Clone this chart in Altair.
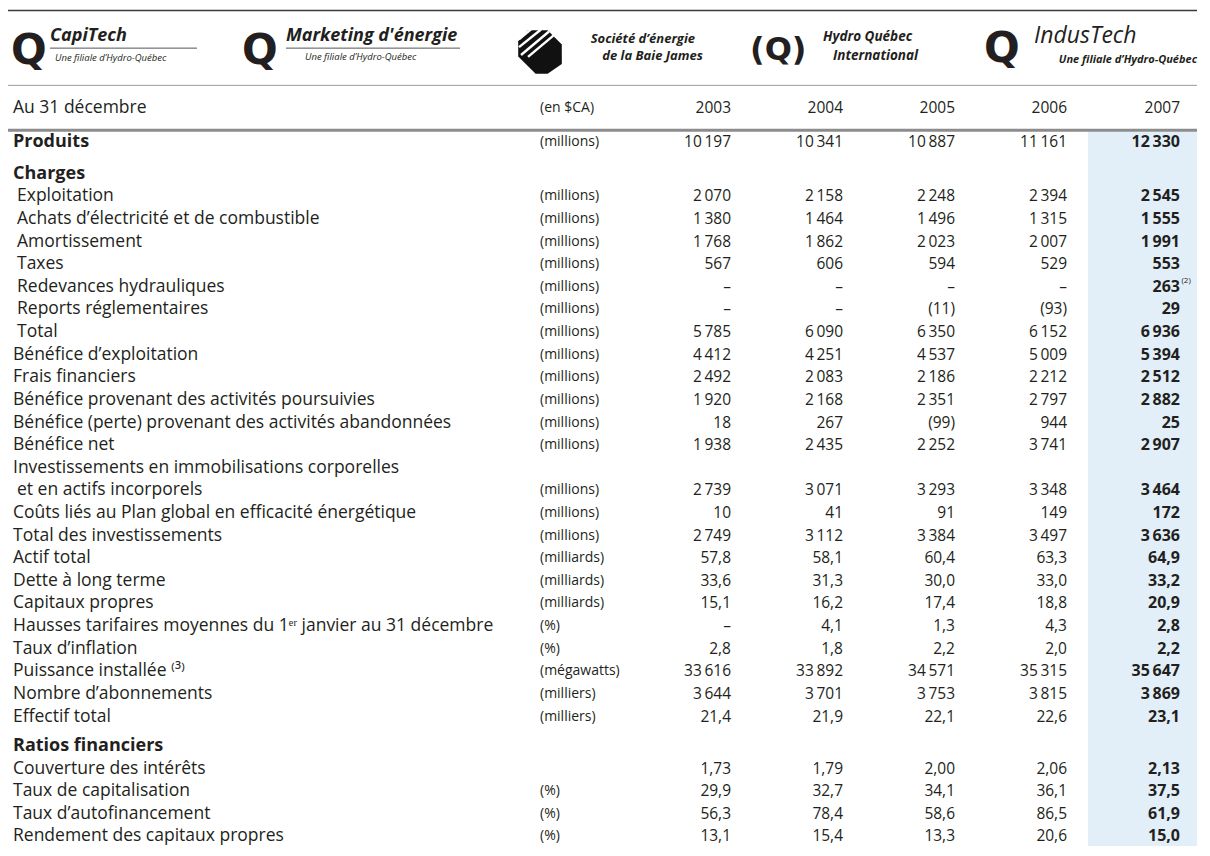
import altair as alt
import pandas as pd

# ---------------- data ----------------
years = ["2003", "2004", "2005", "2006", "2007"]

labels = [
    "Produits", "Charges", "Exploitation", "Achats d’électricité et de combustible",
    "Amortissement", "Taxes", "Redevances hydrauliques", "Reports réglementaires", "Total",
    "Bénéfice d’exploitation", "Frais financiers",
    "Bénéfice provenant des activités poursuivies",
    "Bénéfice (perte) provenant des activités abandonnées", "Bénéfice net",
    "Investissements en immobilisations corporelles", "et en actifs incorporels",
    "Coûts liés au Plan global en efficacité énergétique", "Total des investissements",
    "Actif total", "Dette à long terme", "Capitaux propres",
    "Hausses tarifaires moyennes du 1ᵉʳ janvier au 31 décembre", "Taux d’inflation",
    "Puissance installée ⁽³⁾", "Nombre d’abonnements", "Effectif total",
    "Ratios financiers", "Couverture des intérêts", "Taux de capitalisation",
    "Taux d’autofinancement", "Rendement des capitaux propres",
]

M, G, P = "(millions)", "(milliards)", "(%)"
units = [M, "", M, M, M, M, M, M, M, M, M, M, M, M, "", M, M, M, G, G, G, P, P,
         "(mégawatts)", "(milliers)", "(milliers)", "", "", P, P, P]

indented = [False, False, True, True, True, True, True, True, True, False, False, False,
            False, False, False, True, False, False, False, False, False, False, False,
            False, False, False, False, False, False, False, False]

bold_label = [True, True] + [False] * 24 + [True] + [False] * 4

has_values = [True, False] + [True] * 12 + [False] + [True] * 11 + [False] + [True] * 4

decimals = [0, 0, 0, 0, 0, 0, 0, 0, 0, 0, 0, 0, 0, 0, 0, 0, 0, 0, 1, 1, 1, 1, 1, 0, 0, 1,
            0, 2, 1, 1, 1]

# None = dash (no value)
v2003 = [10197, None, 2070, 1380, 1768, 567, None, None, 5785, 4412, 2492, 1920, 18, 1938,
         None, 2739, 10, 2749, 57.8, 33.6, 15.1, None, 2.8, 33616, 3644, 21.4, None, 1.73,
         29.9, 56.3, 13.1]
v2004 = [10341, None, 2158, 1464, 1862, 606, None, None, 6090, 4251, 2083, 2168, 267, 2435,
         None, 3071, 41, 3112, 58.1, 31.3, 16.2, 4.1, 1.8, 33892, 3701, 21.9, None, 1.79,
         32.7, 78.4, 15.4]
v2005 = [10887, None, 2248, 1496, 2023, 594, None, -11, 6350, 4537, 2186, 2351, -99, 2252,
         None, 3293, 91, 3384, 60.4, 30.0, 17.4, 1.3, 2.2, 34571, 3753, 22.1, None, 2.00,
         34.1, 58.6, 13.3]
v2006 = [11161, None, 2394, 1315, 2007, 529, None, -93, 6152, 5009, 2212, 2797, 944, 3741,
         None, 3348, 149, 3497, 63.3, 33.0, 18.8, 4.3, 2.0, 35315, 3815, 22.6, None, 2.06,
         36.1, 86.5, 20.6]
v2007 = [12330, None, 2545, 1555, 1991, 553, 263, 29, 6936, 5394, 2512, 2882, 25, 2907,
         None, 3464, 172, 3636, 64.9, 33.2, 20.9, 2.8, 2.2, 35647, 3869, 23.1, None, 2.13,
         37.5, 61.9, 15.0]
values = [v2003, v2004, v2005, v2006, v2007]

footnotes = [(6, 4, "(2)")]  # (row, year column, mark)

header_label = "Au 31 décembre"
header_unit = "(en $CA)"

# ---------------- layout ----------------
FONT = "Open Sans"
INK = "#231f20"
FS_LAB = 17.5
FS_BOLD = 18
FS_NUM = 15.5
FS_NUM_B = 16
FS_UNIT = 14
LABEL_X, INDENT_X, UNIT_X = 13, 17, 540
COL_X = [731, 843, 955, 1067, 1180]
BAND_X = (1088, 1197)
RIGHT = 1197
LINE = 23.1
HEADER_Y = 102
FIRST_Y = 137

row_y = []
y = FIRST_Y
for i in range(len(labels)):
    if i > 0:
        if bold_label[i] and not has_values[i]:
            y += (1.4 if i < 5 else 1.3) * LINE
        elif bold_label[i - 1] and not has_values[i - 1] and i > 20:
            y += 1.0 * LINE
        else:
            y += LINE
    row_y.append(y)


def fmt(v, dec):
    if v is None:
        return "–"
    s = f"{abs(v):,.{dec}f}".replace(",", "\u2009").replace(".", ",")
    return f"({s})" if v < 0 else s


lab_df = pd.DataFrame({
    "t": labels,
    "x": [INDENT_X if ind else LABEL_X for ind in indented],
    "y": row_y,
    "b": bold_label,
})
unit_df = pd.DataFrame({"t": units, "x": UNIT_X, "y": row_y})
unit_df = unit_df[unit_df.t != ""]

val_rows = []
for c, col in enumerate(values):
    for i, v in enumerate(col):
        if has_values[i]:
            val_rows.append({"t": fmt(v, decimals[i]), "x": COL_X[c], "y": row_y[i],
                             "last": c == len(values) - 1})
val_df = pd.DataFrame(val_rows)

head_lab = pd.DataFrame({"t": [header_label], "x": [LABEL_X], "y": [HEADER_Y]})
head_unit = pd.DataFrame({"t": [header_unit], "x": [UNIT_X], "y": [HEADER_Y]})
head_years = pd.DataFrame({"t": years, "x": COL_X, "y": HEADER_Y})

fn_df = pd.DataFrame({"t": [f[2] for f in footnotes],
                      "x": [COL_X[f[1]] + 1.5 for f in footnotes],
                      "y": [row_y[f[0]] - 6 for f in footnotes]})

W, H = 1192, 838
xs = alt.Scale(domain=[8, 8 + W], nice=False, zero=False)
ys = alt.Scale(domain=[0, 856], nice=False, zero=False, reverse=True)


def XE(f="x"):
    return alt.X(f"{f}:Q", scale=xs, axis=None)


def YE(f="y"):
    return alt.Y(f"{f}:Q", scale=ys, axis=None)


def text_layer(df, align="left", size=FS_LAB, weight="normal", style="normal", font=FONT,
               color=INK, baseline="middle"):
    return alt.Chart(df).mark_text(align=align, baseline=baseline, fontSize=size,
                                   fontWeight=weight, fontStyle=style, font=font,
                                   color=color).encode(x=XE(), y=YE(), text="t:N")


layers = []

# highlighted 2007 band
band_df = pd.DataFrame({"x": [BAND_X[0]], "x2": [BAND_X[1]], "y": [126.5], "y2": [856]})
layers.append(alt.Chart(band_df).mark_rect(color="#e2eff8").encode(
    x=XE(), x2="x2:Q", y=YE(), y2="y2:Q"))

# horizontal rules
rule_df = pd.DataFrame({
    "x": [8, 8, 8], "x2": [RIGHT, RIGHT, RIGHT], "y": [2.5, 79, 125],
    "c": ["#3a3a3a", "#9a9a9a", "#8c8c8c"], "w": [1.5, 1.0, 3.0]})
layers.append(alt.Chart(rule_df).mark_rule().encode(
    x=XE(), x2="x2:Q", y=YE(), color=alt.Color("c:N", scale=None),
    strokeWidth=alt.StrokeWidth("w:Q", scale=None)))

# table text
layers.append(text_layer(lab_df[~lab_df.b], size=FS_LAB))
layers.append(text_layer(lab_df[lab_df.b], size=FS_BOLD, weight="bold"))
layers.append(text_layer(unit_df, size=FS_UNIT))
layers.append(text_layer(val_df[~val_df["last"]], align="right", size=FS_NUM))
layers.append(text_layer(val_df[val_df["last"]], align="right", size=FS_NUM_B, weight="bold"))
layers.append(text_layer(head_lab, size=FS_LAB))
layers.append(text_layer(head_unit, size=FS_UNIT))
layers.append(text_layer(head_years, align="right", size=FS_NUM))
layers.append(text_layer(fn_df, size=8))

# ---------------- logos ----------------
logo_q = pd.DataFrame({"t": ["Q", "Q", "Q"], "x": [11, 242, 984], "y": [44, 44, 42]})
layers.append(text_layer(logo_q, size=42, weight="bold", font="DejaVu Sans"))
logo_hq = pd.DataFrame({"t": ["(Q)"], "x": [750], "y": [43]})
layers.append(text_layer(logo_hq, size=32, weight="bold", font="DejaVu Sans"))

names_bi = pd.DataFrame({"t": ["CapiTech", "Marketing d'énergie"], "x": [50, 286],
                         "y": [29, 29]})
layers.append(text_layer(names_bi, size=18, weight="bold", style="italic"))
sub_df = pd.DataFrame({"t": ["Une filiale d’Hydro-Québec"] * 2, "x": [55, 305], "y": [51, 50]})
layers.append(text_layer(sub_df, size=9.5, style="italic"))
ul_df = pd.DataFrame({"x": [50, 286], "x2": [197, 460], "y": [41, 41]})
layers.append(alt.Chart(ul_df).mark_rule(color="#555", strokeWidth=1).encode(
    x=XE(), x2="x2:Q", y=YE()))

sejb = pd.DataFrame({"t": ["Société d’énergie", "de la Baie James"], "x": [695, 703],
                     "y": [32, 49]})
layers.append(text_layer(sejb, align="right", size=13, weight="bold", style="italic"))
hqi = pd.DataFrame({"t": ["Hydro Québec", "International"], "x": [823, 833], "y": [30, 49]})
layers.append(text_layer(hqi, size=13.5, weight="bold", style="italic"))
ind = pd.DataFrame({"t": ["IndusTech"], "x": [1034], "y": [29]})
layers.append(text_layer(ind, size=23, style="italic"))
ind2 = pd.DataFrame({"t": ["Une filiale d’Hydro-Québec"], "x": [1197], "y": [53]})
layers.append(text_layer(ind2, align="right", size=11, weight="bold", style="italic"))

icon_df = pd.DataFrame({"x": [540], "y": [45]})
icon_path = ("M -0.55 -1 L 0.35 -1 L 1 -0.35 L 1 0.55 L 0.35 1 L -0.2 1 "
             "L -1 0.2 L -1 -0.5 Z")
layers.append(alt.Chart(icon_df).mark_point(shape=icon_path, filled=True, opacity=1,
                                            color="#111", size=1900).encode(x=XE(), y=YE()))
stripe_df = pd.DataFrame({"x": [519, 519, 521, 528], "y": [32, 40, 48, 50],
                          "x2": [533, 541, 549, 556], "y2": [20, 22, 24, 26]})
layers.append(alt.Chart(stripe_df).mark_rule(color="white", strokeWidth=2.4).encode(
    x=XE(), y=YE(), x2="x2:Q", y2="y2:Q"))

chart = alt.layer(*layers).properties(
    width=W, height=H, padding=0, autosize="none",
    background="white").configure_view(stroke=None)

chart.save("out.html", embed_options={"renderer": "svg", "actions": False})
